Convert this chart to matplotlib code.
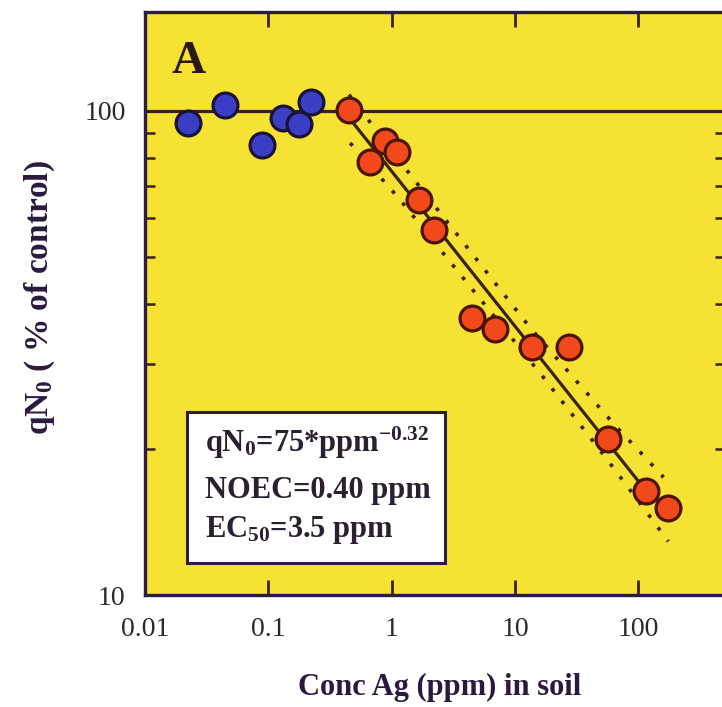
import matplotlib
matplotlib.use("Agg")
import matplotlib.pyplot as plt
from matplotlib.patches import Rectangle
from matplotlib.ticker import FixedLocator, FixedFormatter, NullLocator, LogLocator, NullFormatter

# Control-range observations (below NOEC)
ctrl_ppm = [0.0223, 0.0445, 0.0887, 0.131, 0.177, 0.222]
ctrl_qn0 = [94.5, 102.9, 85.1, 96.7, 94.0, 104.4]

# Dose-response observations (above NOEC)
dose_ppm = [0.45, 0.667, 0.883, 1.11, 1.67, 2.21, 4.51, 6.89, 13.8, 27.4, 57.1, 115, 175]
dose_qn0 = [100.5, 78.5, 86.8, 82.4, 65.4, 56.8, 37.4, 35.5, 32.5, 32.5, 21.0, 16.4, 15.1]

# Fitted power law qN0 = 75 * ppm^-0.32, drawn from NOEC upward
fit_coef = 75.0
fit_exp = -0.32
noec = 0.40
fit_end = 125.0

# Confidence limits of the fit
upper_ppm = [0.45, 1.45, 13.2, 62.7, 128.5, 160]
upper_qn0 = [108, 73.2, 35.7, 22.6, 18.6, 17.5]
lower_ppm = [0.46, 1.13, 16.9, 55.4, 120.5, 175]
lower_qn0 = [85.8, 66.2, 28.2, 19.1, 14.67, 12.9]

x_ticks = [0.01, 0.1, 1, 10, 100]
x_tick_labels = ["0.01", "0.1", "1", "10", "100"]
y_ticks = [10, 100]
y_tick_labels = ["10", "100"]

SERIF = "Liberation Serif"
plt.rcParams["font.family"] = SERIF
plt.rcParams["mathtext.fontset"] = "custom"
plt.rcParams["mathtext.rm"] = SERIF
plt.rcParams["mathtext.bf"] = SERIF + ":bold"
plt.rcParams["mathtext.it"] = SERIF + ":italic"

dark = "#3a2216"
spine_col = "#2c1c46"

fig = plt.figure(figsize=(7.22, 7.07), dpi=100)
ax = fig.add_axes([0.201, 0.1584, 0.8025, 0.8246])
ax.set_facecolor("#F6E232")
ax.set_xscale("log")
ax.set_yscale("log")
ax.set_xlim(0.01, 500)
ax.set_ylim(10, 160)

# reference level (100 % of control)
ax.axhline(100, color=dark, lw=2.3, zorder=2)

# fitted line
xs = [noec * (fit_end / noec) ** (i / 50) for i in range(51)]
ax.plot(xs, [fit_coef * x ** fit_exp for x in xs], color=dark, lw=2.3, zorder=2)

# confidence limits
ax.plot(upper_ppm, upper_qn0, color=dark, lw=2.6, ls=(0, (1, 3.4)), zorder=2)
ax.plot(lower_ppm, lower_qn0, color=dark, lw=2.6, ls=(0, (1, 3.4)), zorder=2)

ax.scatter(ctrl_ppm, ctrl_qn0, s=320, c="#3B3FC6", edgecolors="#1b1238",
           linewidths=2.3, zorder=4)
ax.scatter(dose_ppm, dose_qn0, s=320, c="#F2491B", edgecolors="#4a140c",
           linewidths=2.3, zorder=4)

ax.xaxis.set_major_locator(FixedLocator(x_ticks))
ax.xaxis.set_major_formatter(FixedFormatter(x_tick_labels))
ax.xaxis.set_minor_locator(NullLocator())
ax.yaxis.set_major_locator(FixedLocator(y_ticks))
ax.yaxis.set_major_formatter(FixedFormatter(y_tick_labels))
ax.yaxis.set_minor_locator(LogLocator(base=10, subs=[2, 3, 4, 5, 6, 7, 8, 9]))
ax.yaxis.set_minor_formatter(NullFormatter())

ax.tick_params(which="both", direction="in", top=True, right=True,
               color=dark, labelsize=20, labelcolor="#2a2a2a")
ax.tick_params(which="major", length=11, width=2)
ax.tick_params(which="minor", length=7, width=1.8)
ax.tick_params(axis="x", pad=16)
ax.tick_params(axis="y", pad=14)

for side in ax.spines.values():
    side.set_color(spine_col)
    side.set_linewidth(2.4)

# panel letter
ax.text(0.046, 0.895, "A", transform=ax.transAxes, fontsize=34,
        fontweight="bold", color="#2a1a10", ha="left", va="baseline")

# equation box
ax.add_patch(Rectangle((0.072, 0.0554), 0.446, 0.259, transform=ax.transAxes,
                       facecolor="white", edgecolor=spine_col, lw=2.2, zorder=5))
box_kw = dict(transform=ax.transAxes, fontsize=22, fontweight="bold",
              color="#2a2030", ha="left", va="baseline", zorder=6)
ax.text(0.1036, 0.2458, r"qN$_{\mathbf{0}}$=75*ppm$^{\mathbf{-0.32}}$", **box_kw)
ax.text(0.1036, 0.1659, "NOEC=0.40 ppm", **box_kw)
ax.text(0.1036, 0.1000, r"EC$_{\mathbf{50}}$=3.5 ppm", **box_kw)

fig.text(440 / 722, 1 - 687 / 707, "Conc Ag (ppm) in soil", fontsize=22,
         fontweight="bold", color="#2a1a40", ha="center", va="center")
fig.text(40 / 722, 1 - 298 / 707, r"qN$_{\mathbf{0}}$ ( % of control)",
         fontsize=24, fontweight="bold", color="#2a1a40", rotation=90,
         ha="center", va="center")

fig.savefig("out.png", dpi=100, facecolor="white")
